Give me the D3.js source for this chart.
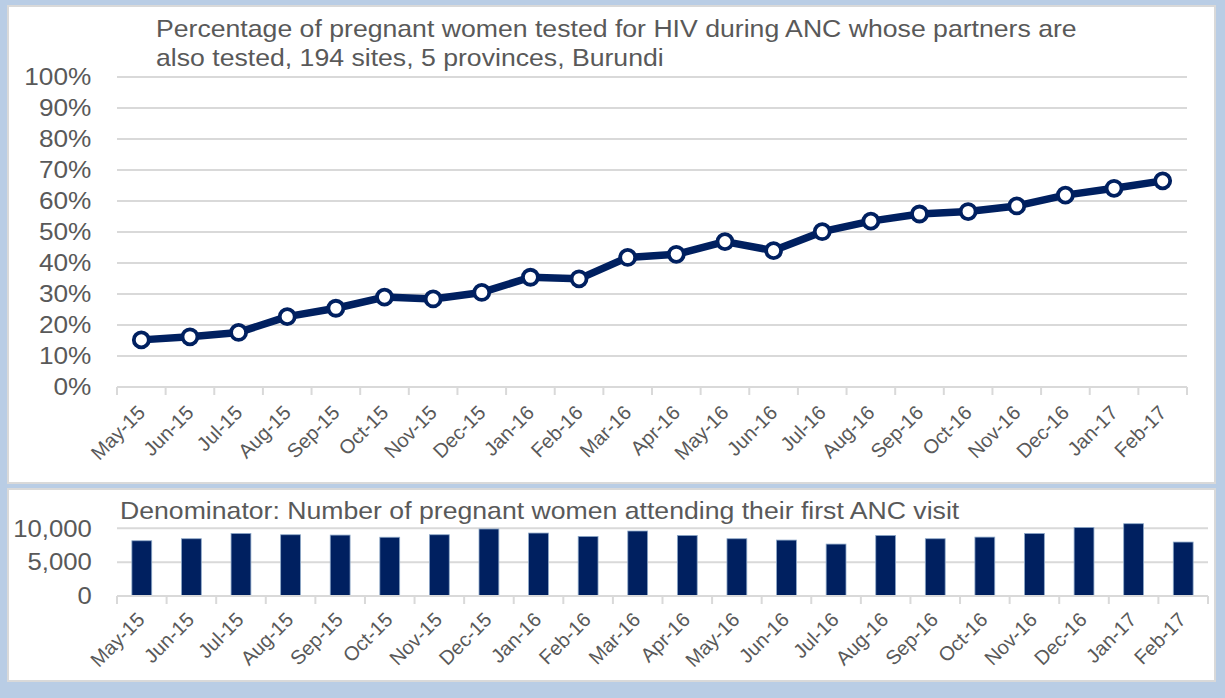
<!DOCTYPE html>
<html>
<head>
<meta charset="utf-8">
<script src="https://cdn.jsdelivr.net/npm/d3@7"></script>
<style>
  html, body { margin: 0; padding: 0; background: #b9cde5; }
  svg text { font-family: Arial, "Liberation Sans", sans-serif; fill: #595959; }
</style>
</head>
<body>
<svg id="chart" width="1225" height="698"></svg>
<script>
const months = ["May-15","Jun-15","Jul-15","Aug-15","Sep-15","Oct-15","Nov-15","Dec-15","Jan-16","Feb-16","Mar-16","Apr-16","May-16","Jun-16","Jul-16","Aug-16","Sep-16","Oct-16","Nov-16","Dec-16","Jan-17","Feb-17"];
const pctTested = [15.2,16.2,17.6,22.7,25.4,29.0,28.4,30.5,35.4,34.9,41.8,42.8,46.9,44.0,50.1,53.5,55.8,56.6,58.4,61.9,64.1,66.5];
const denominator = [8160,8460,9240,9050,9000,8680,9050,9900,9300,8800,9600,8950,8460,8260,7670,8950,8460,8700,9240,10130,10680,7970];
const pctTicks = [0,10,20,30,40,50,60,70,80,90,100];
const denomTicks = [0,5000,10000];
const titleLines = ["Percentage of pregnant women tested for HIV during ANC whose partners are","also tested, 194 sites, 5 provinces, Burundi"];
const denomTitle = "Denominator: Number of pregnant women attending their first ANC visit";

const navy = "#002060", grid = "#d9d9d9";
const svg = d3.select("#chart");

svg.append("rect").attr("width",1225).attr("height",698).attr("fill","#b9cde5");
svg.append("rect").attr("x",8).attr("y",6).attr("width",1207).attr("height",477).attr("fill","#fff").attr("stroke",grid).attr("stroke-width",2);
svg.append("rect").attr("x",8).attr("y",489).attr("width",1207).attr("height",192).attr("fill","#fff").attr("stroke",grid).attr("stroke-width",2);

// ---- Top chart ----
const x1 = d3.scaleBand().domain(months).range([117,1187]);
const y1 = d3.scaleLinear().domain([0,100]).range([387,77]);

const topG = svg.append("g");
topG.selectAll("text.title").data(titleLines).join("text")
  .attr("transform",(d,i)=>`translate(156,${37+i*28.5}) scale(1.11,1)`)
  .attr("font-size",24).text(d=>d);

topG.append("g").selectAll("line").data(pctTicks.filter(d=>d>0)).join("line")
  .attr("x1",117).attr("x2",1187).attr("y1",d=>y1(d)).attr("y2",d=>y1(d))
  .attr("stroke",grid).attr("stroke-width",2);

const yAx1 = topG.append("g").attr("transform","translate(117,0)")
  .call(d3.axisLeft(y1).tickValues(pctTicks).tickFormat(d=>d+"%").tickSize(0).tickPadding(24));
yAx1.select(".domain").remove();
yAx1.selectAll("text").attr("font-size",24.5).attr("fill","#595959").attr("font-family",null)
  .attr("transform","scale(1.07,1)");

const xAx1 = topG.append("g").attr("transform","translate(0,387)")
  .call(d3.axisBottom(x1).tickSize(0).tickFormat(d=>d));
xAx1.select(".domain").remove();
topG.append("line").attr("x1",117).attr("x2",1187).attr("y1",387).attr("y2",387).attr("stroke",grid).attr("stroke-width",2);
topG.append("g").selectAll("line").data(d3.range(months.length+1)).join("line")
  .attr("x1",i=>117+i*x1.step()).attr("x2",i=>117+i*x1.step())
  .attr("y1",387).attr("y2",395).attr("stroke",grid).attr("stroke-width",2);
xAx1.selectAll(".tick text")
  .attr("font-size",20).attr("fill","#595959").attr("font-family",null)
  .attr("text-anchor","end").attr("y",0).attr("dy",0)
  .attr("transform","translate(5,27) rotate(-45)");

const line = d3.line().x((d,i)=>x1(months[i])+x1.bandwidth()/2).y(d=>y1(d));
topG.append("path").datum(pctTested).attr("d",line).attr("fill","none")
  .attr("stroke",navy).attr("stroke-width",7.5).attr("stroke-linejoin","round");
topG.append("g").selectAll("circle").data(pctTested).join("circle")
  .attr("cx",(d,i)=>x1(months[i])+x1.bandwidth()/2).attr("cy",d=>y1(d))
  .attr("r",7.5).attr("fill","#fff").attr("stroke",navy).attr("stroke-width",3.8);

// ---- Bottom chart ----
const x2 = d3.scaleBand().domain(months).range([117,1208]).paddingInner(0.6).paddingOuter(0.3);
const y2 = d3.scaleLinear().domain([0,10000]).range([596,528.3]);
const botG = svg.append("g");

botG.append("g").selectAll("line").data(denomTicks.filter(d=>d>0)).join("line")
  .attr("x1",117).attr("x2",1208).attr("y1",d=>y2(d)).attr("y2",d=>y2(d))
  .attr("stroke",grid).attr("stroke-width",2);
botG.append("text").attr("transform","translate(120,519) scale(1.11,1)").attr("font-size",24).text(denomTitle);

const yAx2 = botG.append("g").attr("transform","translate(117,0)")
  .call(d3.axisLeft(y2).tickValues(denomTicks).tickFormat(d3.format(",")).tickSize(0).tickPadding(24));
yAx2.select(".domain").remove();
yAx2.selectAll("text").attr("font-size",24.5).attr("fill","#595959").attr("font-family",null)
  .attr("transform","scale(1.05,1)");

botG.append("g").selectAll("rect").data(denominator).join("rect")
  .attr("x",(d,i)=>x2(months[i])).attr("width",x2.bandwidth())
  .attr("y",d=>y2(d)).attr("height",d=>y2(0)-y2(d))
  .attr("fill",navy).attr("stroke","#8ea9c9").attr("stroke-width",0.8);

const step2 = (1208-117)/months.length;
botG.append("line").attr("x1",117).attr("x2",1208).attr("y1",596).attr("y2",596).attr("stroke",grid).attr("stroke-width",2);
botG.append("g").selectAll("line").data(d3.range(months.length+1)).join("line")
  .attr("x1",i=>117+i*step2).attr("x2",i=>117+i*step2)
  .attr("y1",596).attr("y2",604).attr("stroke",grid).attr("stroke-width",2);
const xAx2 = botG.append("g").attr("transform","translate(0,596)")
  .call(d3.axisBottom(x2).tickSize(0));
xAx2.select(".domain").remove();
xAx2.selectAll(".tick text")
  .attr("font-size",20).attr("fill","#595959").attr("font-family",null)
  .attr("text-anchor","end").attr("y",0).attr("dy",0)
  .attr("transform","translate(4,25) rotate(-45)");
</script>
</body>
</html>
